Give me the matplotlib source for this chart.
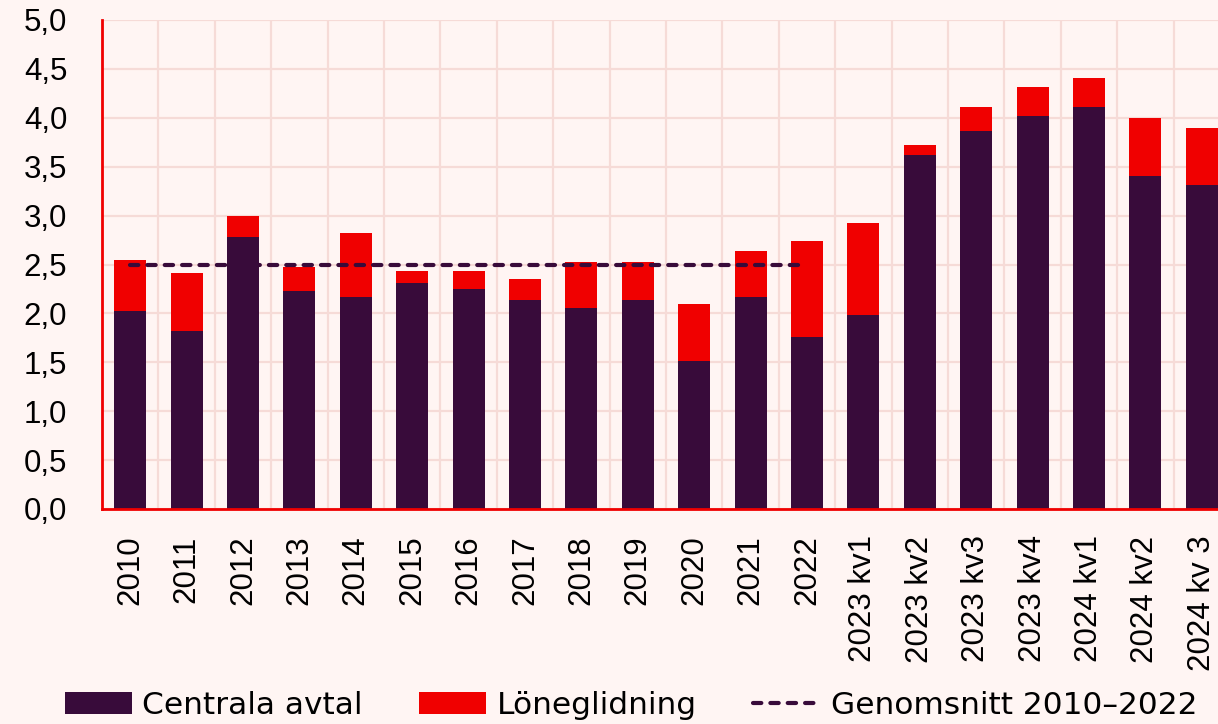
import matplotlib
matplotlib.use("Agg")
import matplotlib.pyplot as plt
import numpy as np
from matplotlib.ticker import FixedLocator, FuncFormatter

categories = ["2010", "2011", "2012", "2013", "2014", "2015", "2016", "2017",
              "2018", "2019", "2020", "2021", "2022", "2023 kv1", "2023 kv2",
              "2023 kv3", "2023 kv4", "2024 kv1", "2024 kv2", "2024 kv 3"]
centrala = [2.02, 1.82, 2.78, 2.23, 2.17, 2.31, 2.25, 2.14, 2.06, 2.14, 1.51,
            2.17, 1.76, 1.98, 3.62, 3.86, 4.02, 4.11, 3.41, 3.31]
totals = [2.55, 2.41, 3.00, 2.47, 2.82, 2.43, 2.43, 2.35, 2.53, 2.53, 2.10,
          2.64, 2.74, 2.92, 3.72, 4.11, 4.31, 4.41, 4.00, 3.90]
loneglidning = [round(t - c, 2) for t, c in zip(totals, centrala)]
average_value = 2.5
average_span = ("2010", "2022")

DARK = "#380b3a"
RED = "#f00000"
BG = "#fff5f3"
GRID = "#f6dbd7"

plt.rcParams["lines.scale_dashes"] = False

fig = plt.figure(figsize=(12.18, 7.24), dpi=100, facecolor=BG)
ax = fig.add_axes([102 / 1218, 1 - 509 / 724, 1128 / 1218, 489 / 724])
ax.set_facecolor(BG)

x = np.arange(len(categories))
w = 0.57
b1 = ax.bar(x, centrala, width=w, color=DARK, label="Centrala avtal", zorder=3)
b2 = ax.bar(x, loneglidning, width=w, bottom=centrala, color=RED, label="Löneglidning", zorder=3)

i0 = categories.index(average_span[0])
i1 = categories.index(average_span[1])
ln, = ax.plot([x[i0], x[i1]], [average_value, average_value], color=DARK, lw=3.0,
              linestyle=(0, (6.0, 6.5)), dash_capstyle="round", zorder=4,
              label="Genomsnitt 2010–2022")

ax.set_xlim(-0.5, len(categories) - 0.5)
ax.set_ylim(0, 5)
ax.set_yticks(np.arange(0, 5.01, 0.5))
ax.yaxis.set_major_formatter(FuncFormatter(lambda v, p: f"{v:.1f}".replace(".", ",")))
ax.set_xticks(x)
ax.set_xticklabels(categories, rotation=90, fontfamily="Liberation Sans", fontsize=22.5)
ax.xaxis.set_minor_locator(FixedLocator(np.arange(0.5, len(categories), 1)))
for lab in ax.get_yticklabels():
    lab.set_fontfamily("Liberation Sans")
    lab.set_fontsize(22.5)

ax.tick_params(axis="x", which="both", length=0, pad=19)
ax.tick_params(axis="y", length=0, pad=25)
ax.grid(axis="y", which="major", color=GRID, lw=1.6, zorder=0)
ax.grid(axis="x", which="minor", color=GRID, lw=1.6, zorder=0)
ax.grid(axis="x", which="major", visible=False)

for s in ["top", "right"]:
    ax.spines[s].set_visible(False)
for s in ["left", "bottom"]:
    ax.spines[s].set_color(RED)
    ax.spines[s].set_linewidth(2)
    ax.spines[s].set_zorder(5)

fig.legend(handles=[b1, b2, ln], loc="center", bbox_to_anchor=(631 / 1218, 1 - 705 / 724), ncol=3,
           frameon=False, prop={"family": "DejaVu Sans", "size": 22.5},
           handlelength=2.15, handleheight=0.7, handletextpad=0.33,
           columnspacing=1.8, borderpad=0)

fig.savefig("out.png", dpi=100, facecolor=BG)
